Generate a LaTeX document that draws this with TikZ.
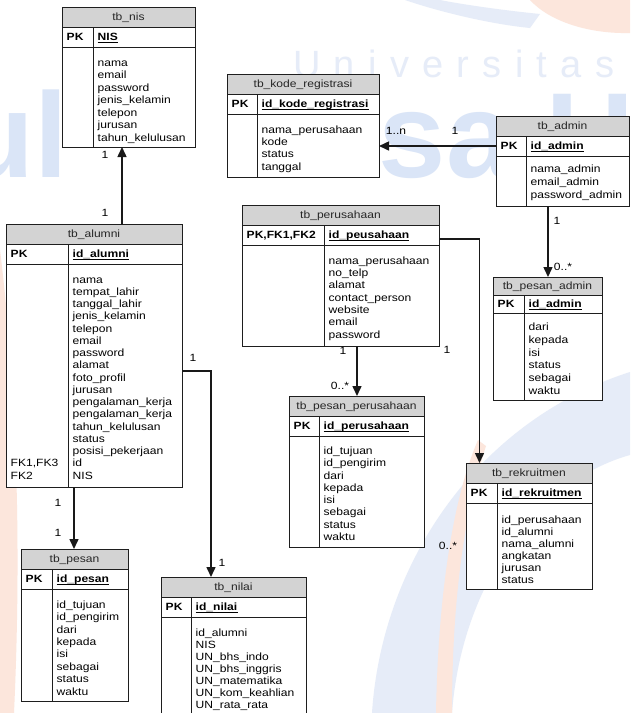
\documentclass[tikz,border=0pt]{standalone}
\usepackage{fontspec}
\setmainfont{Liberation Sans}[FakeStretch=1.15]
\newfontfamily\wmspaced{Liberation Sans}[LetterSpace=35]
\newfontfamily\wmplain{Liberation Sans}
\usetikzlibrary{arrows.meta,fit,calc}

\definecolor{hdrgray}{RGB}{211,211,211}
\definecolor{framecol}{RGB}{30,30,30}
\definecolor{wmblue}{RGB}{218,229,247}
\definecolor{wmpale}{RGB}{230,236,248}
\definecolor{wmorange}{RGB}{252,230,220}

\newcommand\erdfont{\fontsize{10.5}{12.3}\selectfont}
\def\rowh{20}
\def\fieldskip{12.3}
\newcommand\fieldfont{\fontsize{10.5}{\fieldskip}\selectfont}

% table: #1 name, #2 left, #3 top, #4 right, #5 bottom, #6 column divider,
%        #7 title, #8 key label, #9 key field
\newcommand\erdtable[9]{%
  \node[tblframe, fit={(#2,#3) (#4,#5)}] (#1) {};
  \fill[hdrgray] (#1.north west) rectangle ($(#1.north east)+(0,\rowh)$);
  \draw[tblline] ($(#1.north west)+(0,\rowh)$) -- ($(#1.north east)+(0,\rowh)$);
  \draw[tblline] ($(#1.north west)+(0,2*\rowh)$) -- ($(#1.north east)+(0,2*\rowh)$);
  \coordinate (#1-div) at (#6,#3);
  \draw[tblline] ($(#1-div)+(0,\rowh)$) -- (#1-div |- #1.south);
  \draw[tblline] (#1.north west) rectangle (#1.south east);
  \node[titletext, anchor=base] (#1-title) at ($(#1.north)+(0,\rowh/2+3.8)$) {#7};
  \node[pktext, anchor=base west] (#1-pk) at ($(#1.north west)+(4.5,1.5*\rowh+3.8)$) {#8};
  \node[pktext, anchor=base west] (#1-key) at ($(#1-div)+(4.5,1.5*\rowh+3.8)$) {#9};
  \draw[keyline] ($(#1-key.base west)+(0,2)$) -- ($(#1-key.base east)+(0,2)$);
}
% attribute list below the key row; optional argument shifts it vertically
\newcommand\erdfields[3][0]{%
  \node[fieldtext, anchor=north west] (#2-fields)
    at ($(#2-div)+(4.5,2*\rowh+19-0.7*\fieldskip+#1)$) {\strut #3};
}

\begin{document}
\begin{tikzpicture}[x=1pt,y=-1pt,
  tblframe/.style={draw=framecol, line width=0.9pt, fill=white, inner sep=0pt, outer sep=0pt},
  tblline/.style={draw=framecol, line width=0.9pt},
  titletext/.style={inner sep=0pt, font=\erdfont, text=black!85},
  pktext/.style={inner sep=0pt, font=\erdfont\bfseries},
  fieldtext/.style={inner sep=0pt, align=left, font=\fieldfont},
  keyline/.style={line width=1.2pt},
  rel/.style={line width=1.5pt, draw=black!90, -{Triangle[length=10pt,width=9pt]}},
  card/.style={inner sep=0pt, font=\erdfont},
  wmtext/.style={inner sep=0pt}]

\useasboundingbox (0,0) rectangle (630,713);
\fill[white] (0,0) rectangle (630,713);

% background watermark
\begin{scope}
  \clip (0,0) rectangle (630,713);
  \fill[wmorange] (530,0) .. controls (550,22) and (590,34) .. (630,33) -- (630,0) -- cycle;
  \fill[wmpale] (405,0) .. controls (440,12) and (490,24) .. (530,28)
               -- (540,14) .. controls (500,10) and (460,4) .. (440,0) -- cycle;
  \fill[wmorange] (0,250) .. controls (16,380) and (22,540) .. (14,713) -- (0,713) -- cycle;
  \fill[wmpale] (372,713) .. controls (382,560) and (480,420) .. (630,372)
               -- (630,455) .. controls (540,480) and (462,580) .. (452,713) -- cycle;
  \fill[wmorange] (436,713) .. controls (438,600) and (452,500) .. (478,440)
               -- (486,446) .. controls (462,520) and (452,610) .. (452,713) -- cycle;
  \node[wmtext, anchor=base west, text=wmpale, font=\wmspaced\fontsize{38}{38}\selectfont] (wm-univ) at (293,77) {Universitas};
  \node[wmtext, anchor=base west, text=wmblue, font=\wmplain\bfseries\fontsize{121}{121}\selectfont] (wm-esa) at (298,177) {Esa U};
  \node[wmtext, anchor=base west, text=wmblue, font=\wmplain\bfseries\fontsize{121}{121}\selectfont] (wm-ul) at (-40,177) {ul};
\end{scope}

% tables
\erdtable{nis}{62}{7}{195}{147}{93}{tb\_nis}{PK}{NIS}
{\def\fieldskip{12.5}\erdfields{nis}{nama\\email\\password\\jenis\_kelamin\\telepon\\jurusan\\tahun\_kelulusan}}

\erdtable{kode}{227}{74}{379}{177}{257}{tb\_kode\_registrasi}{PK}{id\_kode\_registrasi}
\erdfields{kode}{nama\_perusahaan\\kode\\status\\tanggal}

\erdtable{admin}{496}{116}{629}{206}{526}{tb\_admin}{PK}{id\_admin}
{\def\fieldskip{13}\erdfields[-2.5]{admin}{nama\_admin\\email\_admin\\password\_admin}}

\erdtable{perus}{242}{205}{439}{346}{324}{tb\_perusahaan}{PK,FK1,FK2}{id\_peusahaan}
\erdfields{perus}{nama\_perusahaan\\no\_telp\\alamat\\contact\_person\\website\\email\\password}

\erdtable{pperus}{289}{396}{424}{547}{319}{tb\_pesan\_perusahaan}{PK}{id\_perusahaan}
\erdfields[-0.8]{pperus}{id\_tujuan\\id\_pengirim\\dari\\kepada\\isi\\sebagai\\status\\waktu}

{\def\rowh{18}\def\fieldskip{12.8}
\erdtable{padmin}{493}{277}{602}{400}{524}{tb\_pesan\_admin}{PK}{id\_admin}
\erdfields[-1.8]{padmin}{dari\\kepada\\isi\\status\\sebagai\\waktu}}

\erdtable{rekr}{466}{463}{592}{589}{497}{tb\_rekruitmen}{PK}{id\_rekruitmen}
{\def\fieldskip{12}\erdfields[0.8]{rekr}{id\_perusahaan\\id\_alumni\\nama\_alumni\\angkatan\\jurusan\\status}}

{\def\fieldskip{12.25}
\erdtable{alumni}{6}{224}{182}{487}{68}{tb\_alumni}{PK}{id\_alumni}
\erdfields{alumni}{nama\\tempat\_lahir\\tanggal\_lahir\\jenis\_kelamin\\telepon\\email\\password\\alamat\\foto\_profil\\jurusan\\pengalaman\_kerja\\pengalaman\_kerja\\tahun\_kelulusan\\status\\posisi\_pekerjaan\\id\\NIS}
\node[fieldtext, anchor=north west] (alumni-fk)
  at ($(alumni.north west)+(4.5,2*\rowh+19+15*\fieldskip-0.7*\fieldskip)$) {\strut FK1,FK3\\FK2};}

{\def\fieldskip{12.4}
\erdtable{pesan}{21}{549}{128}{701}{52}{tb\_pesan}{PK}{id\_pesan}
\erdfields{pesan}{id\_tujuan\\id\_pengirim\\dari\\kepada\\isi\\sebagai\\status\\waktu}}

{\def\fieldskip{12.1}
\erdtable{nilai}{161}{577}{306}{722}{191}{tb\_nilai}{PK}{id\_nilai}
\erdfields{nilai}{id\_alumni\\NIS\\UN\_bhs\_indo\\UN\_bhs\_inggris\\UN\_matematika\\UN\_kom\_keahlian\\UN\_rata\_rata}}

% relationships
\draw[rel] (alumni.north -| 122,0) -- (nis.south -| 122,0);
\draw[rel] (admin.west |- 0,146) -- (kode.east |- 0,146);
\draw[rel] (admin.south -| 548,0) -- (padmin.north -| 548,0);
\draw[rel] (perus.south -| 357,0) -- (pperus.north -| 357,0);
\draw[rel] (perus.east |- 0,239) -| (rekr.north -| 479.5,0);
\draw[rel] (alumni.south -| 74,0) -- (pesan.north -| 74,0);
\draw[rel] (alumni.east |- 0,371) -| (nilai.north -| 211,0);

% cardinalities
\node[card] (c-nis) at (105,155) {1};
\node[card] (c-alumni-up) at (105,213) {1};
\node[card] (c-kode) at (396,131) {1..n};
\node[card] (c-admin-l) at (455,131) {1};
\node[card] (c-admin-d) at (557,221) {1};
\node[card] (c-padmin) at (563,267) {0..*};
\node[card] (c-perus-d) at (343,351) {1};
\node[card] (c-perus-r) at (447,350) {1};
\node[card] (c-pperus) at (340,386) {0..*};
\node[card] (c-rekr) at (448,546) {0..*};
\node[card] (c-alumni-d) at (58,503) {1};
\node[card] (c-pesan) at (58,533) {1};
\node[card] (c-alumni-r) at (193,358) {1};
\node[card] (c-nilai) at (222,563) {1};
\end{tikzpicture}
\end{document}
